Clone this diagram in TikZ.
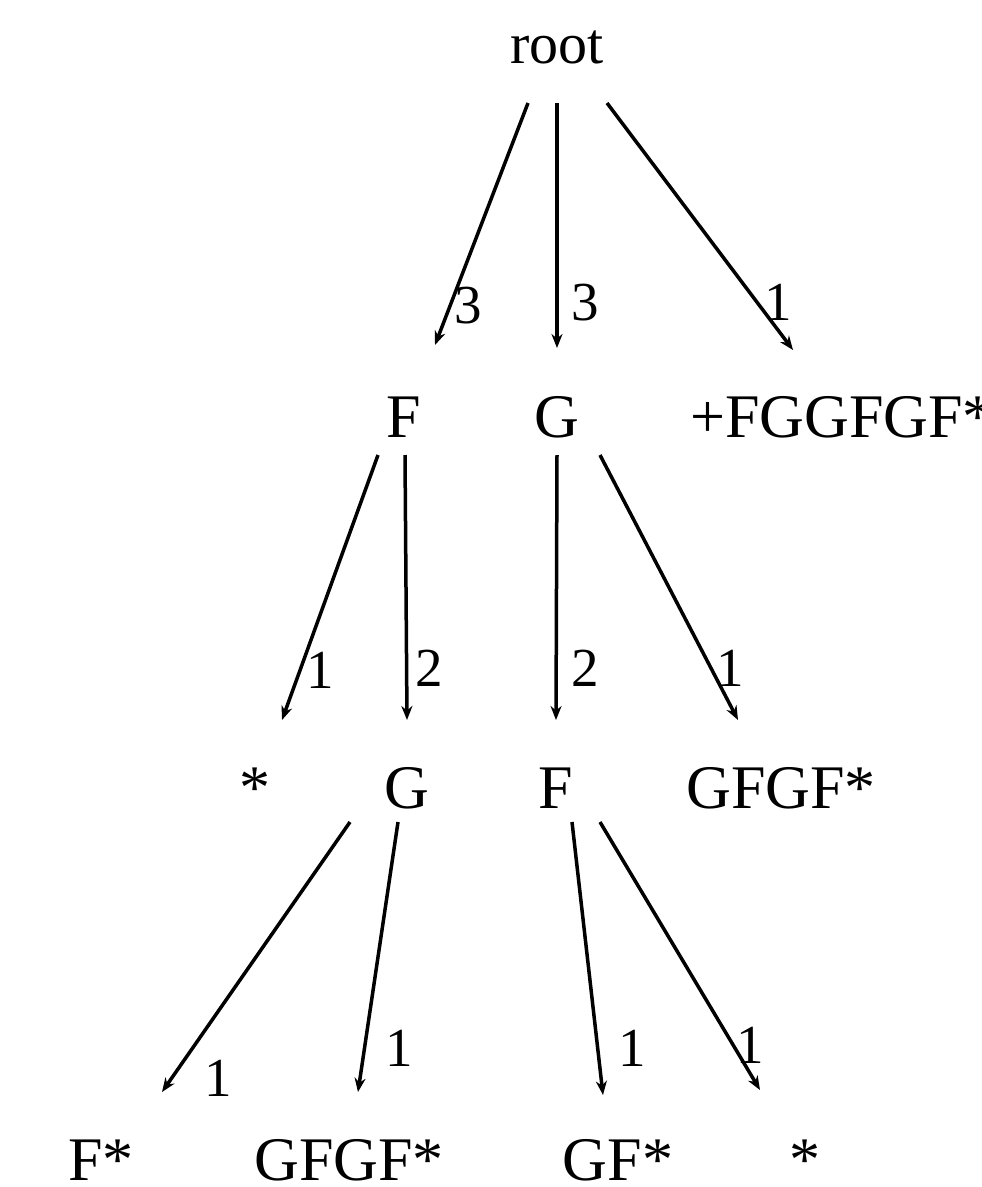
\documentclass[tikz,border=0pt]{standalone}
\usepackage{fontspec}
\setmainfont{Liberation Serif}
\usetikzlibrary{arrows.meta}
\begin{document}
\begin{tikzpicture}[x=1pt,y=-1pt,
  lab/.style={inner sep=0pt, anchor=base, font=\fontsize{62}{70}\selectfont},
  num/.style={inner sep=0pt, font=\fontsize{55}{60}\selectfont},
  edge/.style={line width=3.5pt, -{Stealth[length=14pt,width=11pt]}}]
\useasboundingbox (0,0) rectangle (982,1187);
% nodes
\node[lab,font=\fontsize{58}{66}\selectfont] (root) at (557,63) {root};
\node[lab] (F1) at (404,437) {F};
\node[lab] (G1) at (557,437) {G};
\node[lab,anchor=base west] (P1) at (690,437) {+FGGFGF*};
\node[lab] (S2) at (255,808) {*};
\node[lab] (G2) at (407,808) {G};
\node[lab] (F2) at (556,808) {F};
\node[lab] (W2) at (781,808) {GFGF*};
\node[lab] (F3) at (101,1180) {F*};
\node[lab] (W3) at (349,1180) {GFGF*};
\node[lab] (X3) at (618,1180) {GF*};
\node[lab] (S3) at (805,1180) {*};
% edges
\draw[edge] ([xshift=-29pt,yshift=-40pt]root.base) -- node[num,pos=0.835,xshift=18pt]{3} ([xshift=31pt,yshift=92pt]F1.base);
\draw[edge] ([yshift=-40pt]root.base) -- node[num,pos=0.816,xshift=28pt]{3} ([yshift=89pt]G1.base);
\draw[edge] ([xshift=50pt,yshift=-40pt]root.base) -- node[num,pos=0.806,xshift=21pt]{1} ([xshift=103pt,yshift=87pt]P1.base west);
\draw[edge] ([xshift=-26pt,yshift=-18pt]F1.base) -- node[num,pos=0.811,xshift=20pt]{1} ([xshift=27pt,yshift=88pt]S2.base);
\draw[edge] ([xshift=1pt,yshift=-18pt]F1.base) -- node[num,pos=0.804,xshift=23pt]{2} ([yshift=88pt]G2.base);
\draw[edge] ([yshift=-18pt]G1.base) -- node[num,pos=0.804,xshift=29pt]{2} ([yshift=88pt]F2.base);
\draw[edge] ([xshift=43pt,yshift=-18pt]G1.base) -- node[num,pos=0.804,xshift=19pt]{1} ([xshift=-43pt,yshift=88pt]W2.base);
\draw[edge] ([xshift=-57pt,yshift=-14pt]G2.base) -- node[num,pos=0.948,xshift=46pt]{1} ([xshift=61pt,yshift=88pt]F3.base);
\draw[edge] ([xshift=-9pt,yshift=-14pt]G2.base) -- node[num,pos=0.837,xshift=35pt]{1} ([xshift=9pt,yshift=88pt]W3.base);
\draw[edge] ([xshift=16pt,yshift=-14pt]F2.base) -- node[num,pos=0.828,xshift=35pt]{1} ([xshift=-15pt,yshift=85pt]X3.base);
\draw[edge] ([xshift=44pt,yshift=-14pt]F2.base) -- node[num,pos=0.832,xshift=17pt]{1} ([xshift=-45pt,yshift=90pt]S3.base);
\end{tikzpicture}
\end{document}
